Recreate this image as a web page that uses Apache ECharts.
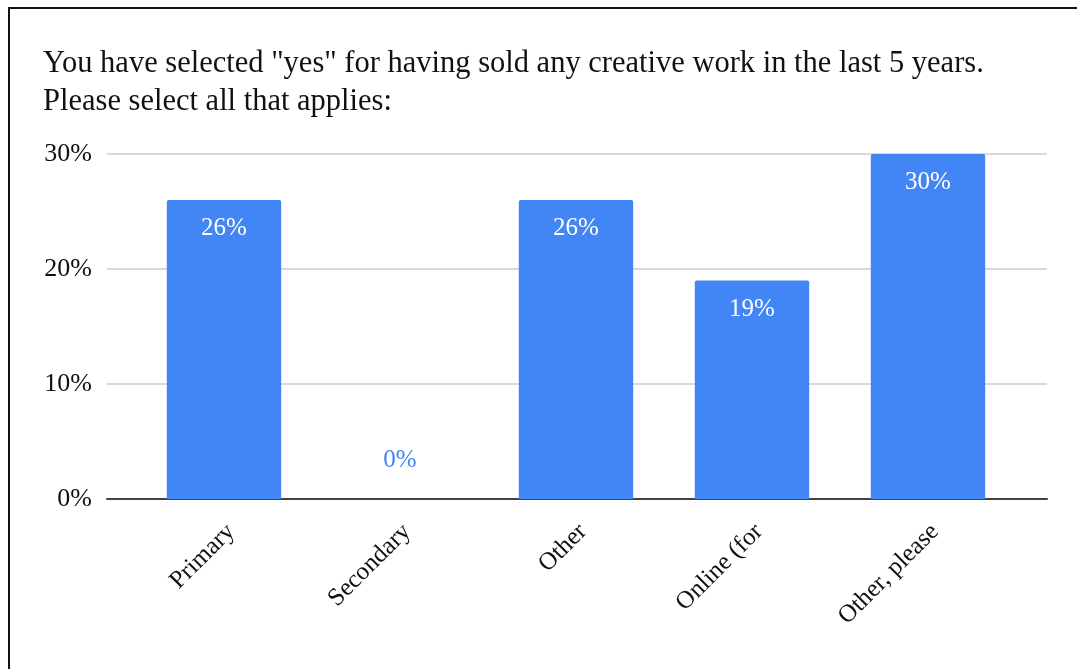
<!DOCTYPE html>
<html>
<head>
<meta charset="utf-8">
<script src="https://cdn.jsdelivr.net/npm/echarts@6/dist/echarts.min.js"></script>
<style>
  html, body { margin: 0; padding: 0; background: #fff; overflow: hidden; }
  #frame { position: absolute; left: 8px; top: 7px; width: 1200px; height: 800px;
           border-left: 2px solid #111; border-top: 2px solid #111; }
  #chart { position: absolute; left: 0; top: 0; width: 1077px; height: 669px; }
</style>
</head>
<body>
<div id="frame"></div>
<div id="chart"></div>
<script>
const titleLines = [
  'You have selected "yes" for having sold any creative work in the last 5 years.',
  'Please select all that applies:'
];
const categories = ['Primary', 'Secondary', 'Other', 'Online (for', 'Other, please'];
const shares = [26, 0, 26, 19, 30];
const yTicks = [0, 10, 20, 30];

const FONT = '"Liberation Serif", "Times New Roman", serif';
const BLUE = '#4285f4';

const chart = echarts.init(document.getElementById('chart'), null, { renderer: 'canvas' });

// a zero-height bar shows its value above the baseline, in the bar colour
const barData = shares.map(v => {
  if (v === 0) {
    return { value: v, label: { position: 'top', color: BLUE, distance: 26 } };
  }
  return v;
});

chart.setOption({
  animation: false,
  title: {
    text: titleLines.join('\n'),
    left: 38, top: 40,
    textStyle: { fontFamily: FONT, fontSize: 30.5, fontWeight: 'normal', color: '#111', lineHeight: 38 }
  },
  // grid 0: full-width gridlines and baseline; grid 1: the bars, inset on both sides
  grid: [
    { left: 107, right: 30, top: 154, bottom: 170 },
    { left: 136, right: 61, top: 154, bottom: 170 }
  ],
  xAxis: [
    { type: 'category', gridIndex: 0, data: [''], axisLine: { show: true, lineStyle: { color: '#444', width: 2 } },
      axisTick: { show: false }, axisLabel: { show: false } },
    { type: 'category', gridIndex: 1, data: categories,
      axisLine: { show: false }, axisTick: { show: false },
      axisLabel: { rotate: 45, margin: 36, interval: 0, fontFamily: FONT, fontSize: 25, color: '#111',
                   padding: [0, -10, 0, 0] } }
  ],
  yAxis: [
    { type: 'value', gridIndex: 0, min: yTicks[0], max: yTicks[yTicks.length - 1], interval: 10,
      axisLine: { show: false }, axisTick: { show: false },
      splitLine: { lineStyle: { color: '#cccccc', width: 1.5 } },
      axisLabel: { formatter: '{value}%', margin: 15, fontFamily: FONT, fontSize: 26, color: '#111' } },
    { type: 'value', gridIndex: 1, min: yTicks[0], max: yTicks[yTicks.length - 1], interval: 10, show: false }
  ],
  series: [{
    type: 'bar',
    xAxisIndex: 1, yAxisIndex: 1,
    data: barData,
    barWidth: '65%',
    itemStyle: { color: BLUE, borderRadius: [2, 2, 0, 0] },
    label: {
      show: true, position: 'insideTop', distance: 16,
      formatter: '{c}%', fontFamily: FONT, fontSize: 25, color: '#fff'
    }
  }]
});
</script>
</body>
</html>
